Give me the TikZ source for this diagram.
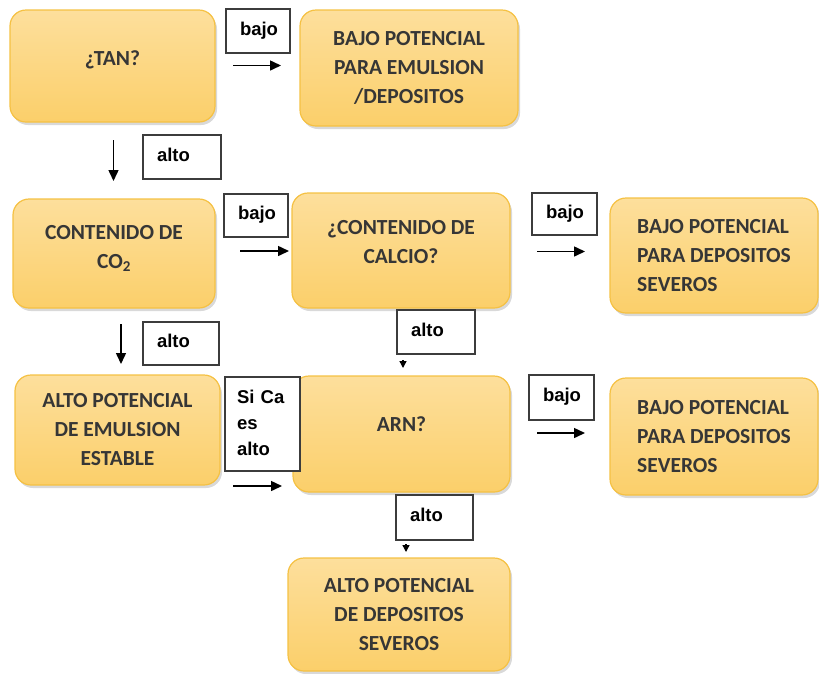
\documentclass[tikz,border=0pt]{standalone}
\usepackage{fontspec}
\newfontfamily\boxfont{Carlito}
\newfontfamily\labfont{Liberation Sans}
\usetikzlibrary{arrows.meta,shadows}
\definecolor{boxtop}{HTML}{FDDF9C}
\definecolor{boxbot}{HTML}{FBCF6A}
\definecolor{boxedge}{HTML}{F5C143}
\definecolor{boxtext}{HTML}{363636}
\definecolor{labedge}{HTML}{3C3C3C}
\begin{document}
\begin{tikzpicture}[x=1pt,y=-1pt,
  pbox/.style={rounded corners=16pt, top color=boxtop, bottom color=boxbot,
    draw=boxedge, line width=1.2pt,
    drop shadow={opacity=0.3,shadow xshift=2pt,shadow yshift=-3pt},
    align=center, font=\boxfont\bfseries\fontsize{21.5}{29}\selectfont,
    text=boxtext, inner sep=0pt},
  lbox/.style={draw=labedge, fill=white, line width=1.5pt,
    font=\labfont\bfseries\fontsize{18.5}{26}\selectfont,
    align=left, inner xsep=14pt, inner ysep=0pt, text depth=5pt},
  arr/.style={line width=1.5pt, -{Triangle[length=11pt,width=10pt]}},
  tip/.style={line width=1.3pt, -{Triangle[length=7pt,width=7pt]}},
]
\useasboundingbox (0,0) rectangle (819,673);

% process boxes
\node[pbox, minimum width=205pt, minimum height=112pt, text depth=15pt] (tan) at (112.5,66) {¿TAN?};
\node[pbox, minimum width=218pt, minimum height=116pt] (bajoemul) at (409,68) {BAJO POTENCIAL\\PARA EMULSION\\/DEPOSITOS};
\node[pbox, minimum width=202pt, minimum height=109pt, text depth=13pt] (co2) at (114,253.5) {CONTENIDO DE\\CO\textsubscript{2}};
\node[pbox, minimum width=218pt, minimum height=115pt, text depth=16.5pt] (calcio) at (401,250.5) {¿CONTENIDO DE\\CALCIO?};
\node[pbox, align=left, minimum width=208pt, minimum height=115pt] (bajodep1) at (714,255.5) {BAJO POTENCIAL\\PARA DEPOSITOS\\SEVEROS};
\node[pbox, minimum width=205pt, minimum height=110pt] (altoemul) at (117.5,430) {ALTO POTENCIAL\\DE EMULSION\\ESTABLE};
\node[pbox, minimum width=217pt, minimum height=116pt, text depth=20pt] (arn) at (401.5,434) {ARN?};
\node[pbox, align=left, minimum width=208pt, minimum height=117pt] (bajodep2) at (714,436.5) {BAJO POTENCIAL\\PARA DEPOSITOS\\SEVEROS};
\node[pbox, minimum width=222pt, minimum height=113pt] (altodep) at (399,614.5) {ALTO POTENCIAL\\DE DEPOSITOS\\SEVEROS};

% label boxes
\node[lbox, text width=36pt, minimum height=44pt] (l1) at (258,31) {bajo};
\node[lbox, text width=50pt, minimum height=44pt] (l2) at (182,157) {alto};
\node[lbox, text width=36pt, minimum height=43pt] (l3) at (256,215.5) {bajo};
\node[lbox, text width=37pt, minimum height=42pt] (l4) at (564.5,214) {bajo};
\node[lbox, text width=48pt, minimum height=43pt] (l5) at (181,343.5) {alto};
\node[lbox, text width=50pt, minimum height=44pt] (l6) at (436,332) {alto};
\node[lbox, inner xsep=12pt, text width=51pt, minimum height=94pt, text depth=55pt] (l7) at (262.5,424) {Si~Ca\\es\\alto};
\node[lbox, text width=37pt, minimum height=45pt] (l8) at (561.5,397.5) {bajo};
\node[lbox, text width=49pt, minimum height=45pt] (l9) at (434.5,517.5) {alto};

% arrow end points
\coordinate (a1s) at (233,65.5);  \coordinate (a1e) at (281,65.5);
\coordinate (a2s) at (113.5,140); \coordinate (a2e) at (113.5,181);
\coordinate (a3s) at (240,251);   \coordinate (a3e) at (289,251);
\coordinate (a4s) at (537,251.5); \coordinate (a4e) at (585,251.5);
\coordinate (a5s) at (121,324);   \coordinate (a5e) at (121,364);
\coordinate (a6s) at (403,360);   \coordinate (a6e) at (403,368);
\coordinate (a7s) at (233,486);   \coordinate (a7e) at (282,486);
\coordinate (a8s) at (537,433);   \coordinate (a8e) at (585,433);
\coordinate (a9s) at (406,544);   \coordinate (a9e) at (406,552);

\draw[arr] (a1s) -- (a1e);
\draw[arr] (a2s) -- (a2e);
\draw[arr] (a3s) -- (a3e);
\draw[arr] (a4s) -- (a4e);
\draw[arr] (a5s) -- (a5e);
\draw[tip] (a6s) -- (a6e);
\draw[arr] (a7s) -- (a7e);
\draw[arr] (a8s) -- (a8e);
\draw[tip] (a9s) -- (a9e);
\end{tikzpicture}
\end{document}
